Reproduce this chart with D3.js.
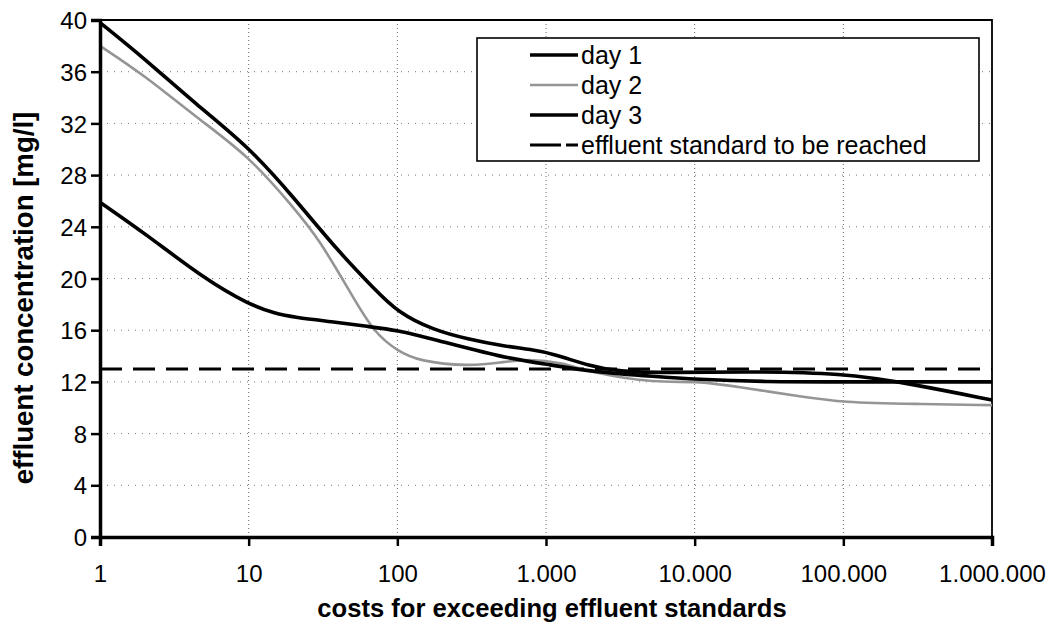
<!DOCTYPE html>
<html>
<head>
<meta charset="utf-8">
<script src="https://cdn.jsdelivr.net/npm/d3@7"></script>
<style>
  body { margin: 0; background: #fff; }
  svg text { font-family: "Liberation Sans", Arial, sans-serif; fill: #000; }
</style>
</head>
<body>
<div class="chart"></div>
<script>
// DATA //
var xTicks = [1, 10, 100, 1000, 10000, 100000, 1000000];
var xTickLabels = ['1', '10', '100', '1.000', '10.000', '100.000', '1.000.000'];
var yTicks = [0, 4, 8, 12, 16, 20, 24, 28, 32, 36, 40];

var day1X = [1, 2, 4.4, 10, 20, 40, 70, 100, 175, 300, 500, 800, 1100, 2000, 3000, 7000, 20000, 100000, 300000, 1000000];
var day1Y = [39.8, 37.0, 33.5, 30.2, 26.3, 22.1, 19.2, 17.4, 16.0, 15.3, 14.8, 14.5, 14.2, 13.2, 12.8, 12.7, 12.8, 12.7, 11.8, 10.6];

var day2X = [1, 2, 4.4, 10, 20, 30, 50, 70, 100, 140, 300, 500, 750, 1300, 2000, 5600, 10000, 20000, 50000, 100000, 300000, 1000000];
var day2Y = [38.0, 35.7, 32.5, 29.5, 25.5, 23.0, 18.6, 15.8, 14.4, 13.6, 13.2, 13.5, 13.8, 13.5, 12.7, 11.9, 12.1, 11.6, 10.9, 10.4, 10.3, 10.2];

var day3X = [1, 2, 5, 10, 15, 20, 40, 62, 100, 175, 500, 1100, 2000, 5600, 10000, 30000, 100000, 1000000];
var day3Y = [25.9, 23.5, 20.0, 18.0, 17.3, 17.0, 16.6, 16.3, 16.0, 15.3, 13.9, 13.3, 12.8, 12.4, 12.2, 12.0, 12.0, 12.0];

var standardValue = 13;
var legendLabels = ['day 1', 'day 2', 'day 3', 'effluent standard to be reached'];

// LAYOUT //
var width = 1054, height = 628;
var margin = { top: 20, right: 62, bottom: 91, left: 100 };

var svg = d3.select('.chart').append('svg')
    .attr('width', width)
    .attr('height', height);

var xScale = d3.scaleLog().domain([1, 1000000]).range([margin.left, width - margin.right]);
var yScale = d3.scaleLinear().domain([0, 40]).range([height - margin.bottom, margin.top]);

function zip(xs, ys) {
    return xs.map(function(x, i) { return { x: x, y: ys[i] }; });
}

var line = d3.line()
    .x(function(d) { return xScale(d.x); })
    .y(function(d) { return yScale(d.y); })
    .curve(d3.curveBasis);

// gridlines
var grid = svg.append('g').attr('class', 'grid');
grid.selectAll('.hgrid')
    .data(yTicks.filter(function(d) { return d > 0 && d < 40; }))
    .enter().append('line')
    .attr('x1', xScale(1)).attr('x2', xScale(1000000))
    .attr('y1', function(d) { return yScale(d); })
    .attr('y2', function(d) { return yScale(d); })
    .attr('stroke', '#777').attr('stroke-width', 1)
    .attr('stroke-dasharray', '1,6');
grid.selectAll('.vgrid')
    .data(xTicks.slice(1, -1))
    .enter().append('line')
    .attr('y1', yScale(0)).attr('y2', yScale(40))
    .attr('x1', function(d) { return xScale(d); })
    .attr('x2', function(d) { return xScale(d); })
    .attr('stroke', '#666').attr('stroke-width', 1)
    .attr('stroke-dasharray', '1,3');

// top and right border
svg.append('path')
    .attr('d', 'M' + xScale(1) + ',' + yScale(40) + 'H' + xScale(1000000) + 'V' + yScale(0))
    .attr('fill', 'none').attr('stroke', '#000').attr('stroke-width', 1.8);

// standard line
svg.append('line')
    .attr('x1', xScale(1)).attr('x2', xScale(1000000))
    .attr('y1', yScale(standardValue)).attr('y2', yScale(standardValue))
    .attr('stroke', '#000').attr('stroke-width', 3.2)
    .attr('stroke-dasharray', '22,11');

// series
svg.append('path').datum(zip(day2X, day2Y))
    .attr('d', line).attr('fill', 'none')
    .attr('stroke', '#959595').attr('stroke-width', 2.6);
svg.append('path').datum(zip(day3X, day3Y))
    .attr('d', line).attr('fill', 'none')
    .attr('stroke', '#000').attr('stroke-width', 3.6);
svg.append('path').datum(zip(day1X, day1Y))
    .attr('d', line).attr('fill', 'none')
    .attr('stroke', '#000').attr('stroke-width', 3.6);

// axes
var yAxis = svg.append('g')
    .attr('transform', 'translate(' + margin.left + ',0)')
    .call(d3.axisLeft(yScale).tickValues(yTicks).tickSize(9).tickPadding(4));
var xAxis = svg.append('g')
    .attr('transform', 'translate(0,' + (height - margin.bottom) + ')')
    .call(d3.axisBottom(xScale).tickValues(xTicks).tickSize(9).tickPadding(19)
        .tickFormat(function(d, i) { return xTickLabels[i]; }));

[xAxis, yAxis].forEach(function(a) {
    a.select('.domain').attr('stroke', '#000').attr('stroke-width', 3.5);
    a.selectAll('.tick line').attr('stroke', '#000').attr('stroke-width', 2.5);
    a.selectAll('.tick text')
        .style('font-family', '"Liberation Sans", Arial, sans-serif')
        .style('font-size', '24px')
        .attr('fill', '#000');
});
yAxis.selectAll('.tick text').attr('dy', '0.36em');

// axis titles
svg.append('text')
    .attr('x', 552).attr('y', 617)
    .attr('text-anchor', 'middle')
    .style('font-size', '25.6px').style('font-weight', 'bold')
    .text('costs for exceeding effluent standards');
svg.append('text')
    .attr('transform', 'translate(33,298) rotate(-90)')
    .attr('text-anchor', 'middle')
    .style('font-size', '27.6px').style('font-weight', 'bold')
    .text('effluent concentration [mg/l]');

// legend
var legend = svg.append('g').attr('class', 'legend');
legend.append('rect')
    .attr('x', 477).attr('y', 38).attr('width', 502).attr('height', 123)
    .attr('fill', '#fff').attr('stroke', '#000').attr('stroke-width', 1.6);

var legendStyles = [
    { stroke: '#000', width: 3.6, dash: null },
    { stroke: '#959595', width: 2.6, dash: null },
    { stroke: '#000', width: 3.6, dash: null },
    { stroke: '#000', width: 3.2, dash: '31,5' }
];

var rows = legend.selectAll('.row')
    .data(legendLabels)
    .enter().append('g')
    .attr('transform', function(d, i) { return 'translate(0,' + (55 + i * 30) + ')'; });
rows.append('line')
    .attr('x1', 530).attr('x2', 578).attr('y1', 0).attr('y2', 0)
    .attr('stroke', function(d, i) { return legendStyles[i].stroke; })
    .attr('stroke-width', function(d, i) { return legendStyles[i].width; })
    .attr('stroke-dasharray', function(d, i) { return legendStyles[i].dash; });
rows.append('text')
    .attr('x', 581).attr('y', 9)
    .style('font-size', '25px')
    .text(function(d) { return d; });
</script>
</body>
</html>
